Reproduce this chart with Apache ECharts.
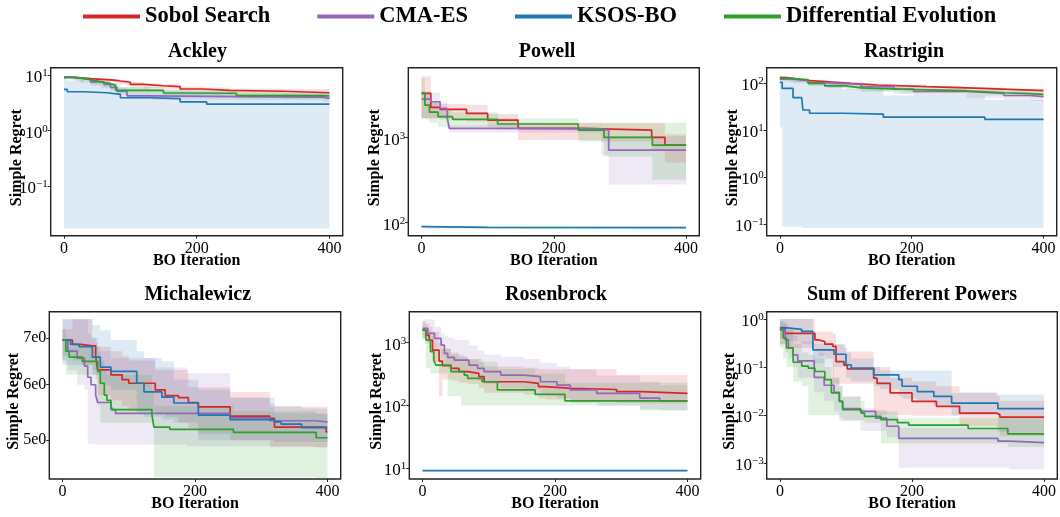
<!DOCTYPE html>
<html><head><meta charset="utf-8">
<script src="https://cdn.jsdelivr.net/npm/echarts@6/dist/echarts.min.js"></script>
<style>html,body{margin:0;padding:0;background:#fff}#c{width:1060px;height:517px}</style>
</head><body><div id="c"></div>
<script>
// ---------------- data ----------------
const seriesNames = ['Sobol Search', 'CMA-ES', 'KSOS-BO', 'Differential Evolution'];
const seriesColors = ['#d62728', '#9467bd', '#1f77b4', '#2ca02c'];
const panelTitles = ['Ackley', 'Powell', 'Rastrigin', 'Michalewicz', 'Rosenbrock', 'Sum of Different Powers'];
const xTickValues = [0, 200, 400];
const michTickValues = [5, 6, 7];

// rows: [BO iteration, median simple regret, lower band, upper band]
const ackleySobol = [[0,9.1,8.5,9.6],[15,8.6,8.0,9.2],[40,8.1,7.5,8.8],[75,7.8,7.1,8.5],[85,7.4,6.7,8.1],[100,6.8,6.1,7.5],[120,6.4,5.8,7.0],[150,6.2,5.6,6.8],[175,5.6,5.0,6.2],[210,5.3,4.7,5.9],[250,5.1,4.5,5.7],[330,4.8,4.3,5.6],[400,4.8,4.3,5.6]];
const ackleyCma = [[0,9.0,8.5,9.5],[20,8.3,7.6,8.9],[40,7.5,6.8,8.2],[60,6.8,6.1,7.5],[70,6.0,5.2,6.8],[80,5.1,4.4,5.8],[95,4.2,3.7,4.7],[130,4.1,3.6,4.6],[260,4.0,3.5,4.5],[390,3.8,3.3,4.3],[400,3.8,3.3,4.3]];
const ackleyKsos = [[0,5.5,0.0174,8.5],[5,5.0,0.0174,8.0],[30,4.8,0.0174,7.5],[65,4.5,0.0174,7.0],[85,3.9,0.0174,6.0],[130,3.75,0.0174,5.5],[175,3.3,0.0174,5.0],[215,3.0,0.0174,4.6],[400,3.0,0.0174,4.6]];
const ackleyDe = [[0,9.2,8.7,9.6],[10,8.8,8.2,9.3],[25,8.2,7.2,8.7],[40,7.6,6.4,8.2],[55,7.0,5.8,7.7],[70,6.5,5.5,7.1],[78,5.3,4.7,6.0],[150,4.75,4.3,5.4],[175,4.7,4.2,5.3],[260,4.25,3.8,4.9],[330,4.2,3.7,4.8],[400,4.2,3.7,4.8]];

const powellSobol = [[0,3330,1700,5300],[14,2280,1700,2700],[28,2150,1650,2500],[68,1930,1550,2450],[100,1610,1350,1900],[146,1290,940,1500],[240,1270,940,1500],[272,1230,900,1480],[348,1010,700,1480],[368,820,510,1100],[400,820,510,1100]];
const powellCma = [[0,2850,1700,3550],[14,2650,1700,3400],[28,2210,1700,2600],[39,1690,1300,2200],[42,1290,1150,1400],[150,1270,1150,1350],[272,1230,620,1300],[283,716,282,1050],[400,716,282,1050]];
const powellKsos = [[0,90,87,93],[5,88,85.5,91],[100,87.5,85,90],[400,87,84.5,89.5]];
const powellDe = [[0,3330,1700,5000],[5,2420,1650,3300],[12,2000,1500,2600],[25,1770,1350,2100],[47,1640,1350,2000],[115,1450,1250,1700],[237,1230,900,1500],[276,1010,600,1500],[349,820,320,1500],[400,820,320,1500]];

const rastriginSobol = [[0,132,123,142],[10,125,116,135],[25,115,107,124],[40,108,100,117],[73,100,93,108],[108,92,85,100],[148,85,78,93],[223,80,73,88],[283,75,68,82],[338,70,64,77],[400,70,64,77]];
const rastriginCma = [[0,122,108,135],[20,115,100,128],[43,102,88,114],[73,95,80,106],[123,85,68,95],[173,75,60,85],[203,67,54,77],[283,61,48,70],[340,55,44,64],[380,52,42,60],[400,52,42,60]];
const rastriginKsos = [[0,105,11.5,140],[3.5,78,0.089,130],[20,49.5,0.089,120],[33,49.5,0.0826,110],[35,27,0.0826,110],[45,23,0.0826,100],[95,22,0.0826,75],[157,19,0.0826,55],[311,17.1,0.0826,44],[400,17.1,0.0826,40]];
const rastriginDe = [[0,128,117,140],[15,118,108,128],[43,100,91,110],[68,88,80,97],[100,80,72,88],[123,75,67,83],[183,69,61,77],[283,63,55,70],[340,60,52,67],[380,58,50,65],[400,58,50,65]];

const michSobol = [[0,6.95,6.6,7.2],[15,6.85,6.5,7.44],[28,6.82,6.4,7.44],[45,6.82,6.3,7.0],[50,6.6,6.1,6.9],[53,6.3,5.8,6.8],[73,6.2,5.7,6.7],[90,6.1,5.6,6.6],[100,6.03,5.5,6.5],[140,5.9,5.45,6.3],[155,5.79,5.4,6.3],[175,5.75,5.3,6.3],[190,5.66,5.2,5.95],[205,5.58,5.1,5.95],[253,5.41,5.0,5.86],[313,5.37,4.89,5.58],[320,5.22,4.89,5.58],[398,5.14,4.89,5.58],[400,5.14,4.89,5.58]];
const michCma = [[0,6.95,6.5,7.44],[8,6.7,6.3,7.44],[22,6.55,6.0,7.44],[33,6.38,5.9,7.44],[38,6.15,4.94,7.1],[43,6.0,4.94,7.0],[50,5.8,4.93,7.0],[53,5.66,4.93,6.7],[73,5.53,4.93,6.55],[80,5.46,4.93,6.55],[140,5.46,4.93,6.35],[188,5.46,4.9,6.23],[253,5.38,4.9,5.75],[313,5.33,4.9,5.64],[320,5.33,4.9,5.46],[380,5.31,4.88,5.46],[400,5.31,4.88,5.46]];
const michKsos = [[0,6.95,6.4,7.44],[12,6.85,6.4,7.44],[25,6.8,6.4,7.44],[45,6.57,6.2,7.3],[57,6.36,6.0,7.18],[73,6.27,5.9,6.95],[112,6.03,5.45,6.7],[123,5.86,5.4,6.55],[150,5.76,5.35,6.48],[168,5.65,5.3,6.1],[205,5.43,5.0,5.9],[253,5.35,5.0,5.75],[320,5.31,4.97,5.6],[330,5.27,4.97,5.6],[361,5.21,4.97,5.55],[400,5.21,4.97,5.55]];
const michDe = [[0,6.95,6.5,7.2],[5,6.7,6.2,7.0],[10,6.57,6.2,6.8],[30,6.48,6.2,6.8],[53,6.27,5.6,6.8],[57,6.03,5.3,6.5],[63,5.8,5.3,6.3],[67,5.7,5.3,6.2],[73,5.6,5.3,6.2],[75,5.53,5.3,6.2],[135,5.43,5.3,5.9],[138,5.22,4.43,5.6],[162,5.18,4.43,5.6],[258,5.13,4.43,5.5],[383,5.04,4.37,5.45],[400,5.04,4.37,5.45]];

const rosenSobol = [[0,1590,1150,2200],[5,1325,950,2000],[10,1100,800,1800],[15,760,500,1500],[25,510,140,1000],[30,430,260,800],[43,391,250,700],[55,346,230,600],[68,325,220,550],[85,288,190,500],[93,239,160,420],[153,225,150,400],[175,200,130,380],[185,188,125,377],[225,180,115,377],[293,166,110,305],[330,156,108,305],[400,156,108,305]];
const rosenCma = [[0,1690,1200,2350],[8,1410,1000,2350],[18,1170,800,1800],[28,917,600,1400],[33,676,450,1300],[38,585,380,1200],[48,530,330,1100],[70,441,280,900],[83,391,250,750],[93,346,220,650],[118,305,190,600],[153,288,180,550],[178,239,150,480],[203,212,130,420],[223,177,110,377],[263,156,100,300],[328,131,88,240],[358,119,85,210],[400,119,85,210]];
const rosenKsos = [[0,9.2,8.9,9.5],[200,9.17,8.87,9.47],[400,9.15,8.85,9.45]];
const rosenDe = [[0,1590,1200,2000],[5,1100,391,1600],[12,720,325,1300],[17,530,325,1000],[20,441,325,800],[38,441,141,800],[43,346,141,650],[58,346,100,650],[63,305,100,600],[68,271,100,550],[90,239,100,500],[113,177,100,380],[170,151,100,320],[215,119,100,230],[328,119,83,230],[400,119,83,230]];

const sumPowSobol = [[0,0.65,0.3,1.0],[8,0.5,0.25,1.0],[53,0.368,0.2,0.547],[58,0.34,0.17,0.547],[68,0.3,0.15,0.547],[80,0.27,0.045,0.5],[85,0.13,0.045,0.3],[97,0.11,0.045,0.25],[102,0.092,0.045,0.21],[142,0.059,0.0101,0.1],[147,0.046,0.0101,0.1],[167,0.029,0.0101,0.06],[200,0.0194,0.0098,0.05],[237,0.0153,0.0098,0.04],[272,0.0111,0.006,0.03],[328,0.0103,0.005,0.025],[333,0.0091,0.0037,0.02],[400,0.0091,0.0037,0.02]];
const sumPowCma = [[0,0.59,0.3,0.9],[8,0.368,0.2,0.8],[13,0.25,0.15,0.6],[20,0.18,0.1,0.45],[27,0.135,0.06,0.35],[52,0.061,0.03,0.2],[67,0.042,0.02,0.12],[82,0.03,0.012,0.06],[90,0.0194,0.0075,0.04],[95,0.0137,0.0075,0.025],[122,0.012,0.0047,0.014],[145,0.0087,0.0047,0.013],[162,0.0059,0.0035,0.01],[180,0.0033,0.00081,0.0055],[330,0.0029,0.00081,0.005],[348,0.0027,0.00075,0.0045],[400,0.0027,0.00075,0.0045]];
const sumPowKsos = [[0,0.66,0.4,1.0],[8,0.61,0.35,1.0],[33,0.55,0.3,1.0],[50,0.228,0.12,0.31],[82,0.185,0.1,0.3],[100,0.112,0.06,0.2],[108,0.095,0.05,0.15],[142,0.069,0.04,0.1],[152,0.069,0.035,0.085],[180,0.055,0.025,0.085],[185,0.04,0.022,0.085],[208,0.031,0.02,0.085],[233,0.0246,0.016,0.085],[260,0.0179,0.01,0.029],[330,0.0137,0.0045,0.027],[400,0.0137,0.0045,0.027]];
const sumPowDe = [[0,0.59,0.25,0.9],[5,0.4,0.15,0.8],[10,0.25,0.1,0.6],[20,0.126,0.05,0.3],[33,0.105,0.04,0.2],[43,0.095,0.01,0.18],[53,0.081,0.01,0.15],[68,0.055,0.01,0.1],[78,0.029,0.01,0.06],[90,0.0194,0.009,0.04],[95,0.013,0.008,0.024],[123,0.0111,0.008,0.02],[128,0.0095,0.007,0.012],[153,0.0081,0.0026,0.012],[178,0.007,0.0026,0.0087],[195,0.0062,0.0026,0.0087],[285,0.0053,0.0026,0.0087],[345,0.0041,0.0022,0.0087],[400,0.0041,0.0022,0.0087]];

const panelData = [
  [ackleySobol, ackleyCma, ackleyKsos, ackleyDe],
  [powellSobol, powellCma, powellKsos, powellDe],
  [rastriginSobol, rastriginCma, rastriginKsos, rastriginDe],
  [michSobol, michCma, michKsos, michDe],
  [rosenSobol, rosenCma, rosenKsos, rosenDe],
  [sumPowSobol, sumPowCma, sumPowKsos, sumPowDe]
];

// ---------------- layout ----------------
const gridRects = [[50.7,67.7,292,168],[408.3,67.7,291,168],[766.7,67.7,290,168],[49.3,311.7,291.4,167.3],[409.3,311.7,291.4,167.3],[766.7,311.7,290.6,167.3]];
const yExpRange = [[-1.888,1.131],[1.847,3.824],[-1.249,2.333],[0.6435,0.8825],[0.830,3.494],[-3.325,0.151]];
const yDecadeTicks = [[-1,0,1],[2,3],[-1,0,1,2],null,[1,2,3],[-3,-2,-1,0]];
const titlePos = [[197.5,52],[547,52],[904,52],[197.8,295],[556,295],[912,295]];
const yNameGap = [26,25,26,27,24,29];

const FONT = 'Liberation Serif';

function rgba(hex, a) {
  const n = parseInt(hex.slice(1), 16);
  return 'rgba(' + (n >> 16 & 255) + ',' + (n >> 8 & 255) + ',' + (n & 255) + ',' + a + ')';
}

const grids = [], xAxes = [], yAxes = [], series = [];
gridRects.forEach(function (g, i) {
  grids.push({ left: g[0], top: g[1], width: g[2], height: g[3], show: true, borderColor: '#222', borderWidth: 1.4, backgroundColor: 'transparent', containLabel: false });
  xAxes.push({
    type: 'value', gridIndex: i, min: -20, max: 420,
    axisLine: { show: false, onZero: false }, splitLine: { show: false },
    axisTick: { show: true, length: 3, customValues: xTickValues, lineStyle: { color: '#222', width: 1 } },
    axisLabel: { customValues: xTickValues, margin: 5, fontFamily: FONT, fontSize: 16, color: '#000' },
    name: 'BO Iteration', nameLocation: 'middle', nameGap: 17, nameMoveOverlap: false,
    nameTextStyle: { fontFamily: FONT, fontSize: 16, fontWeight: 'bold', color: '#000' }
  });
  const r = yExpRange[i];
  // data axis (log scale), decorations hidden
  yAxes.push({
    type: 'log', logBase: 10, gridIndex: i, min: Math.pow(10, r[0]), max: Math.pow(10, r[1]),
    axisLine: { show: false, onZero: false }, axisTick: { show: false }, axisLabel: { show: false }, splitLine: { show: false }
  });
  // label axis in exponent space (same pixel mapping as the log axis)
  const isMich = (i === 3);
  const tickVals = isMich ? michTickValues.map(function (v) { return Math.log10(v); }) : yDecadeTicks[i];
  yAxes.push({
    type: 'value', gridIndex: i, position: 'left', min: r[0], max: r[1],
    axisLine: { show: false, onZero: false }, splitLine: { show: false },
    axisTick: { show: true, length: 3, customValues: tickVals, lineStyle: { color: '#222', width: 1 } },
    axisLabel: {
      customValues: tickVals, margin: 3, color: '#000', fontFamily: FONT, fontSize: 16,
      formatter: isMich ? function (v) { return Math.round(Math.pow(10, v)) + 'e0'; }
                        : function (v) { const e = Math.round(v); return '{b|10}{s|' + (e < 0 ? '\u2212' + (-e) : e) + '}'; },
      rich: {
        b: { fontFamily: FONT, fontSize: 17, lineHeight: 17, color: '#000', padding: [5, 0, 0, 0] },
        s: { fontFamily: FONT, fontSize: 11, lineHeight: 11, color: '#000', padding: [0, 0, 4, 0] }
      }
    },
    name: 'Simple Regret', nameLocation: 'middle', nameGap: yNameGap[i], nameMoveOverlap: false,
    nameTextStyle: { fontFamily: FONT, fontSize: 16, fontWeight: 'bold', color: '#000', padding: [0, 12, 0, 0] }
  });

  const rowsList = panelData[i];
  // bands first
  rowsList.forEach(function (rows, k) {
    const color = rgba(seriesColors[k], 0.15);
    series.push({
      type: 'custom', xAxisIndex: i, yAxisIndex: 2 * i, silent: true, z: 1, clip: true,
      data: rows.map(function (d) { return [d[0], d[2], d[3]]; }),
      encode: { x: 0, y: [1, 2] },
      renderItem: function (params, api) {
        if (params.dataIndex !== 0) return null;
        const up = [], dn = [];
        for (let j = 0; j < rows.length; j++) {
          const x0 = rows[j][0];
          const x1 = j + 1 < rows.length ? rows[j + 1][0] : rows[j][0];
          up.push(api.coord([x0, rows[j][3]]), api.coord([x1, rows[j][3]]));
          dn.push(api.coord([x0, rows[j][2]]), api.coord([x1, rows[j][2]]));
        }
        return { type: 'polygon', shape: { points: up.concat(dn.reverse()) }, style: { fill: color } };
      }
    });
  });
  // median lines
  rowsList.forEach(function (rows, k) {
    series.push({
      type: 'line', name: seriesNames[k], xAxisIndex: i, yAxisIndex: 2 * i, step: 'end',
      data: rows.map(function (d) { return [d[0], d[1]]; }),
      showSymbol: false, symbol: 'none', z: 3 + k, clip: true,
      lineStyle: { color: seriesColors[k], width: 1.7 }, itemStyle: { color: seriesColors[k] },
      emphasis: { disabled: true }
    });
  });
});

const chart = echarts.init(document.getElementById('c'), null, { renderer: 'canvas' });
chart.setOption({
  animation: false,
  backgroundColor: '#fff',
  legend: {
    data: seriesNames, left: 83, top: 5, padding: 0, itemWidth: 57, itemHeight: 4, itemGap: 47, icon: 'rect',
    selectedMode: false,
    textStyle: { fontFamily: FONT, fontWeight: 'bold', fontSize: 22.5, color: '#000' }
  },
  graphic: panelTitles.map(function (t, i) {
    return { type: 'text', x: titlePos[i][0], y: titlePos[i][1], silent: true,
      style: { text: t, font: 'bold 20px "Liberation Serif"', fill: '#000', align: 'center', verticalAlign: 'middle', textAlign: 'center', textVerticalAlign: 'middle' } };
  }),
  grid: grids, xAxis: xAxes, yAxis: yAxes, series: series
});
</script></body></html>
